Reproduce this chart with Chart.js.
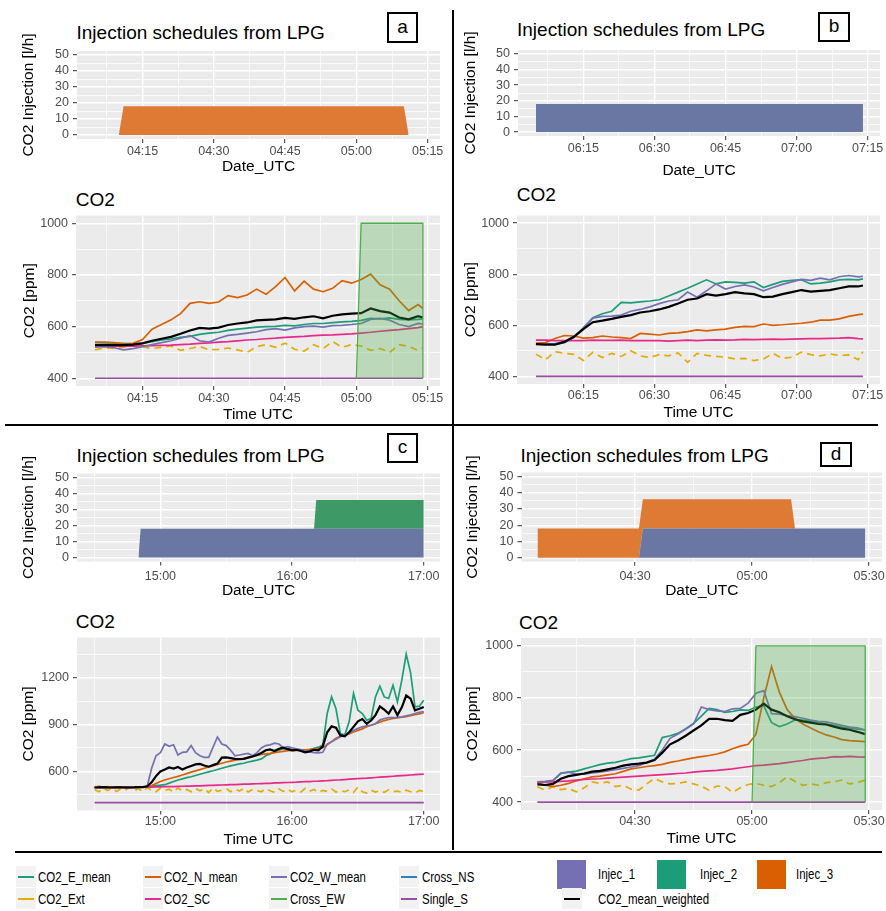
<!DOCTYPE html>
<html>
<head>
<meta charset="utf-8">
<title>Injection schedules and CO2</title>
<script src="https://cdn.jsdelivr.net/npm/chart.js@4.4.1/dist/chart.umd.min.js"></script>
<style>
  html, body { margin: 0; padding: 0; }
  body { position: relative; width: 886px; height: 911px; overflow: hidden; background: #fff;
         font-family: 'Liberation Sans', Arial, sans-serif; color: #000; }
  canvas { position: absolute; }
  .title { position: absolute; font-size: 19px; line-height: 19px; white-space: nowrap; }
  .tag { position: absolute; border: 2px solid #000; box-sizing: border-box; font-size: 19px; text-align: center; }
  .rule { position: absolute; background: #000; }
  .lg { position: absolute; font-size: 14px; line-height: 14px; white-space: nowrap;
        transform: scaleX(0.82); transform-origin: 0 50%; }
  .key { position: absolute; width: 20px; height: 21px; background: #f2f2f2; }
  .key i { position: absolute; left: 2px; right: 2px; top: 10px; height: 2px; }
  .box { position: absolute; width: 29px; height: 29px; }
</style>
</head>
<body>

<div class="rule" style="left:452px;top:10px;width:2px;height:840px"></div>
<div class="rule" style="left:5px;top:424px;width:873px;height:2px"></div>
<div class="rule" style="left:15px;top:851px;width:867px;height:2px"></div>

<div class="title" style="left:76.5px;top:23.4px">Injection schedules from LPG</div>
<div class="title" style="left:517px;top:20px">Injection schedules from LPG</div>
<div class="title" style="left:76.5px;top:446.2px">Injection schedules from LPG</div>
<div class="title" style="left:520.5px;top:446.2px">Injection schedules from LPG</div>
<div class="title" style="left:75.7px;top:189.9px">CO2</div>
<div class="title" style="left:516.7px;top:185.2px">CO2</div>
<div class="title" style="left:75.7px;top:612.4px">CO2</div>
<div class="title" style="left:519px;top:612.7px">CO2</div>

<div class="tag" style="left:387px;top:12px;width:31px;height:31px;line-height:25px">a</div>
<div class="tag" style="left:818px;top:12px;width:32px;height:30px;line-height:24px">b</div>
<div class="tag" style="left:387px;top:433px;width:31px;height:30px;line-height:24px">c</div>
<div class="tag" style="left:820px;top:442px;width:32px;height:25px;line-height:19px">d</div>

<canvas id="injA"></canvas>
<canvas id="co2A"></canvas>
<canvas id="injB"></canvas>
<canvas id="co2B"></canvas>
<canvas id="injC"></canvas>
<canvas id="co2C"></canvas>
<canvas id="injD"></canvas>
<canvas id="co2D"></canvas>

<!-- legend -->
<div class="key" style="left:16px;top:866px"><i style="background:#1b9e77"></i></div>
<div class="lg" style="left:38px;top:870px">CO2_E_mean</div>
<div class="key" style="left:143px;top:866px"><i style="background:#d95f02"></i></div>
<div class="lg" style="left:164px;top:870px">CO2_N_mean</div>
<div class="key" style="left:269px;top:866px"><i style="background:#7570b3"></i></div>
<div class="lg" style="left:290px;top:870px">CO2_W_mean</div>
<div class="key" style="left:399px;top:866px"><i style="background:#377eb8"></i></div>
<div class="lg" style="left:422px;top:870px">Cross_NS</div>
<div class="key" style="left:16px;top:888px"><i style="background:#e6ab02"></i></div>
<div class="lg" style="left:38px;top:892px">CO2_Ext</div>
<div class="key" style="left:143px;top:888px"><i style="background:#e7298a"></i></div>
<div class="lg" style="left:164px;top:892px">CO2_SC</div>
<div class="key" style="left:269px;top:888px"><i style="background:#4daf4a"></i></div>
<div class="lg" style="left:290px;top:892px">Cross_EW</div>
<div class="key" style="left:399px;top:888px"><i style="background:#984ea3"></i></div>
<div class="lg" style="left:422px;top:892px">Single_S</div>

<div class="box" style="left:557px;top:860px;background:#7570b3"></div>
<div class="lg" style="left:598px;top:867px">Injec_1</div>
<div class="box" style="left:657px;top:860px;background:#1b9e77"></div>
<div class="lg" style="left:700px;top:867px">Injec_2</div>
<div class="box" style="left:757px;top:860px;background:#d95f02"></div>
<div class="lg" style="left:796px;top:867px">Injec_3</div>
<div class="key" style="left:562px;top:888px"><i style="background:#000"></i></div>
<div class="lg" style="left:598px;top:892px">CO2_mean_weighted</div>

<script>
// ---------- injection schedules (l/h) ----------
const aInjTime = ['04:10', '04:11', '05:10', '05:11'];
const aInj3 = [0, 18, 18, 0];

const bInjTime = ['06:05', '07:14'];
const bInj1 = [18, 18];

const cInjTime = ['14:50', '14:51', '16:10', '16:11', '17:00'];
const cInj1 = [0, 18, 18, 18, 18];
const cInj2 = [0, 0, 0, 18, 18];

const dInjTime = ['04:05', '04:31', '04:32', '05:10', '05:11', '05:29'];
const dInj1 = [0, 0, 18, 18, 18, 18];
const dInj3 = [18, 18, 18, 18, 0, 0];

// ---------- CO2 (ppm), panel a ----------
const aTime = ['04:05','04:07','04:09','04:11','04:13','04:15','04:17','04:19','04:21','04:23','04:25','04:27',
  '04:29','04:31','04:33','04:35','04:37','04:39','04:41','04:43','04:45','04:47','04:49','04:51',
  '04:53','04:55','04:57','04:59','05:01','05:03','05:05','05:07','05:09','05:11','05:13','05:14'];
const aE = [538,537,536,535,533,536,542,548,552,558,562,570,575,578,585,590,594,598,600,601,605,603,608,612,
  612,615,618,620,624,632,630,634,628,626,628,630];
const aN = [540,540,538,532,535,550,590,608,626,650,690,696,690,695,720,712,722,745,725,755,790,738,776,745,
  735,748,778,768,782,803,762,745,700,662,685,670];
const aW = [520,522,518,510,515,522,530,538,545,555,565,545,540,555,566,570,575,580,588,592,586,595,600,602,
  598,604,605,608,612,628,632,625,608,600,612,610];
const aSC = [525,525,524,524,524,525,526,527,528,530,532,535,537,540,542,545,548,550,553,555,558,560,562,565,
  567,568,570,572,575,578,582,585,588,592,596,600];
const aExt = [510,518,515,520,525,522,515,520,525,508,515,523,510,512,517,510,500,522,530,520,536,512,505,530,
  515,542,520,530,525,508,515,500,530,523,508,517];
const aMean = [528,528,528,528,530,535,545,553,560,572,585,595,592,596,606,612,616,624,626,628,634,630,636,640,
  632,642,647,650,652,670,660,654,635,628,640,635];
const aSingleTime = ['04:05', '05:14'];
const aSingle = [400, 400];
const aCrossTime = ['05:00', '05:01', '05:14', '05:14'];
const aCross = [400, 1000, 1000, 400];

// ---------- CO2 (ppm), panel b ----------
const bTime = ['06:05','06:07','06:09','06:11','06:13','06:15','06:17','06:19','06:21','06:23','06:25','06:27',
  '06:29','06:31','06:33','06:35','06:37','06:39','06:41','06:43','06:45','06:47','06:49','06:51',
  '06:53','06:55','06:57','06:59','07:01','07:03','07:05','07:07','07:09','07:11','07:13','07:14'];
const bE = [526,526,528,535,555,590,630,645,655,690,688,692,695,700,715,730,745,762,778,762,770,768,765,770,
  748,760,772,776,778,762,765,770,778,780,778,782];
const bN = [530,532,548,560,558,550,552,558,554,552,548,568,565,562,568,570,575,582,578,582,585,592,596,595,
  605,600,602,605,608,612,620,620,625,635,642,644];
const bW = [526,526,526,532,552,588,628,635,636,640,655,662,672,685,695,700,730,710,735,762,742,752,758,750,
  735,748,760,770,780,776,785,778,790,795,790,792];
const bSC = [542,542,540,540,540,540,542,541,541,542,540,540,540,540,538,540,542,540,542,543,542,543,545,544,
  545,546,545,546,547,548,548,549,550,552,548,547];
const bExt = [487,465,497,490,486,462,494,474,490,478,500,480,474,485,480,492,455,490,482,478,475,468,470,462,
  468,490,470,475,495,485,480,488,482,484,465,497];
const bMean = [526,524,524,535,555,585,612,618,625,633,640,650,655,662,672,685,700,705,722,716,722,730,725,722,
  710,712,722,730,738,732,735,738,745,752,752,756];
const bSingleTime = ['06:05', '07:14'];
const bSingle = [400, 400];

// ---------- CO2 (ppm), panel c ----------
const cTime = ['14:30','14:32','14:34','14:36','14:38','14:40','14:42','14:44','14:46','14:48','14:50','14:52','14:54',
  '14:56','14:58','15:00','15:02','15:04','15:06','15:08','15:10','15:12','15:14','15:16','15:18',
  '15:20','15:22','15:24','15:26','15:28','15:30','15:32','15:34','15:36','15:38',
  '15:40','15:42','15:44','15:46','15:48','15:50','15:52','15:54','15:56','15:58',
  '16:00','16:02','16:04','16:06','16:08','16:10','16:12','16:14','16:16','16:18',
  '16:20','16:22','16:24','16:26','16:28','16:30','16:32','16:34','16:36','16:38',
  '16:40','16:42','16:44','16:46','16:48','16:50','16:52','16:54','16:56','16:58','17:00'];
const cE = [500,502,498,500,500,498,500,500,498,500,500,500,500,
  505,510,512,515,525,535,545,552,560,566,574,582,590,597,604,612,620,628,635,642,648,652,660,666,672,680,
  700,712,725,735,745,744,738,736,738,737,740,748,755,768,970,1076,1000,842,832,917,1098,991,970,927,938,
  1076,1145,1076,1066,1151,1044,1183,1350,1230,1013,1017,1055];
const cN = [500,505,500,502,498,500,500,498,500,500,500,500,505,
  510,522,535,545,553,561,568,577,586,595,603,611,620,628,636,644,652,660,666,672,678,684,690,696,702,708,
  712,715,720,724,728,732,734,735,736,737,740,742,745,752,770,790,812,825,832,840,852,862,872,885,895,
  905,915,925,932,938,942,946,950,956,962,968,975];
const cW = [497,497,500,498,497,497,497,496,497,497,498,500,505,
  620,700,720,775,760,770,705,722,725,765,720,700,690,690,755,820,775,765,735,700,705,710,715,700,720,750,
  765,770,780,775,750,758,750,745,740,730,725,720,719,722,775,790,805,822,835,845,862,875,885,892,895,
  905,928,938,944,944,946,949,955,962,970,978,982];
const cSC = [497,497,498,497,498,498,497,498,499,498,499,500,500,
  500,501,501,502,503,503,504,505,506,506,507,508,
  509,510,511,512,513,514,515,516,517,518,
  519,520,521,522,523,524,526,527,528,529,
  530,531,533,534,535,537,538,540,541,543,
  545,546,548,550,552,554,556,557,559,561,
  563,565,567,569,571,573,575,577,579,581,583];
const cExt = [485,470,492,478,495,472,488,480,498,476,490,470,496,
  480,470,492,478,486,468,495,474,484,470,490,476,
  488,465,494,472,480,490,470,486,475,492,
  468,484,478,470,490,476,466,488,472,485,
  470,480,468,492,474,484,466,478,472,488,
  468,476,470,482,466,500,470,462,480,468,
  476,466,482,470,474,466,480,470,462,478,470];
const cMean = [497,498,500,498,497,498,498,497,497,498,500,500,505,
  530,570,600,612,625,618,628,612,625,635,645,648,638,630,640,650,688,690,685,680,678,680,688,695,705,718,
  735,740,730,745,752,742,735,738,730,722,728,738,735,760,850,888,880,830,825,850,885,920,935,905,925,
  960,1015,995,970,1015,960,1010,1085,1065,990,1000,1012];
const cSingleTime = ['14:30', '17:00'];
const cSingle = [400, 400];

// ---------- CO2 (ppm), panel d ----------
const dTime = ['04:05','04:07','04:09','04:11','04:13','04:15','04:17','04:19','04:21','04:23','04:25','04:27',
  '04:29','04:31','04:33','04:35','04:37','04:39','04:41','04:43','04:45','04:47','04:49','04:51',
  '04:53','04:55','04:57','04:59','05:01','05:03','05:05','05:07','05:09','05:11','05:13','05:15',
  '05:17','05:19','05:21','05:23','05:25','05:27','05:29'];
const dE = [478,478,482,510,515,519,528,536,544,550,553,560,567,570,575,580,648,655,664,682,702,730,760,755,
  745,748,754,752,765,770,705,690,700,715,715,710,706,700,695,688,685,680,677];
const dN = [474,465,460,465,472,482,490,497,500,505,509,518,528,532,537,540,545,553,558,564,570,575,579,585,
  593,605,615,622,660,800,920,822,755,722,700,685,670,658,650,640,636,634,632];
const dW = [478,480,484,512,515,508,508,512,515,520,525,530,535,540,552,565,600,645,662,680,700,765,755,750,
  748,758,760,780,818,828,740,738,732,728,722,715,710,708,702,695,688,685,677];
const dSC = [477,478,478,480,482,485,487,489,490,492,494,496,498,500,502,504,506,508,510,512,515,518,520,522,
  525,528,532,536,540,542,545,548,552,556,560,565,568,570,575,574,576,574,573];
const dExt = [459,446,460,448,452,440,455,478,472,478,460,465,450,446,470,491,478,470,472,478,470,462,446,462,
  460,438,455,468,472,465,460,475,497,480,465,470,465,475,478,485,470,475,485];
const dMean = [468,466,470,490,500,505,510,517,520,526,532,540,545,548,552,562,590,622,637,655,675,695,720,720,
  715,712,735,742,755,778,755,745,730,718,710,705,700,698,690,682,678,670,661];
const dSingleTime = ['04:05', '05:29'];
const dSingle = [400, 400];
const dCrossTime = ['05:00', '05:01', '05:29', '05:29'];
const dCross = [400, 1000, 1000, 400];

// ---------- tick labels ----------
const aMajor = ['04:15', '04:30', '04:45', '05:00', '05:15'];
const bMajor = ['06:15', '06:30', '06:45', '07:00', '07:15'];
const cMajor = ['15:00', '16:00', '17:00'];
const dMajor = ['04:30', '05:00', '05:30'];
const injTicks = [0, 10, 20, 30, 40, 50];
const co2Ticks = [400, 600, 800, 1000];
const co2TicksC = [600, 900, 1200];

// ---------- helpers ----------
Chart.defaults.font.family = "'Liberation Sans', Arial, sans-serif";

const toMin = s => { const p = s.split(':'); return +p[0] * 60 + +p[1]; };
const pad2 = n => String(n).padStart(2, '0');
const hhmm = v => pad2(Math.floor(v / 60)) + ':' + pad2(v % 60);
const pts = (times, vals) => times.map((t, i) => ({ x: toMin(t), y: vals[i] }));

// grey ggplot panel
const panelBg = {
  id: 'panelBg',
  beforeDraw(chart) {
    const a = chart.chartArea, ctx = chart.ctx;
    ctx.save();
    ctx.fillStyle = '#ebebeb';
    ctx.fillRect(a.left, a.top, a.right - a.left, a.bottom - a.top);
    ctx.restore();
  }
};

// majors plus the minor lines half way between them
function withMinors(majors, lo, hi) {
  const step = majors[1] - majors[0];
  const out = [majors[0] - step / 2];
  majors.forEach(m => out.push(m, m + step / 2));
  return out.filter(v => v >= lo && v <= hi);
}

function axis(o) {
  const major = o.major;
  const ticks = withMinors(major, o.min, o.max);
  const isMajor = c => !!c.tick && major.indexOf(c.tick.value) >= 0;
  return {
    type: 'linear', min: o.min, max: o.max, stacked: !!o.stacked,
    border: { display: false },
    afterBuildTicks: s => { s.ticks = ticks.map(v => ({ value: v })); },
    grid: {
      color: '#ffffff',
      lineWidth: c => isMajor(c) ? 1.4 : 0.7,
      tickLength: 4,
      tickWidth: 1,
      tickColor: c => isMajor(c) ? '#333333' : 'rgba(0,0,0,0)'
    },
    ticks: {
      autoSkip: false, maxRotation: 0, padding: o.pad, color: '#4d4d4d', font: { size: 12.5 },
      callback: v => major.indexOf(v) >= 0 ? (o.fmt ? o.fmt(v) : String(v)) : ''
    },
    title: { display: true, text: o.title, color: '#000', font: { size: 15.5 } }
  };
}

function build(id, rect, plot, xo, yo, datasets) {
  const cv = document.getElementById(id);
  cv.width = rect.r - rect.l;
  cv.height = rect.b - rect.t;
  cv.style.left = rect.l + 'px';
  cv.style.top = rect.t + 'px';
  const x = axis(xo), y = axis(yo);
  x.afterFit = s => { s.height = rect.b - plot.b; };
  y.afterFit = s => { s.width = plot.l - rect.l; };
  x.title.padding = { top: 0, bottom: xo.tpad };
  y.title.padding = { top: yo.tpad, bottom: 0 };
  return new Chart(cv, {
    type: 'line',
    data: { datasets: datasets },
    options: {
      responsive: false, animation: false, devicePixelRatio: 1,
      layout: { autoPadding: false, padding: { left: 0, top: plot.t - rect.t, right: rect.r - plot.r, bottom: 0 } },
      plugins: { legend: { display: false }, tooltip: { enabled: false } },
      elements: { point: { radius: 0 }, line: { tension: 0 } },
      scales: { x: x, y: y }
    },
    plugins: [panelBg]
  });
}

function injSet(t, v, color, fill) {
  return { data: pts(t, v), borderColor: 'rgba(0,0,0,0)', borderWidth: 0, backgroundColor: color, fill: fill };
}

function lineSet(t, v, color, width, order, dash) {
  return { data: pts(t, v), borderColor: color, borderWidth: width, borderDash: dash || [], fill: false, order: order };
}

function crossSet(t, v) {
  return { data: pts(t, v), borderColor: '#4daf4a', borderWidth: 1.3, backgroundColor: 'rgba(77,175,74,0.3)',
           fill: { value: 400 }, order: 0 };
}

function co2Sets(t, e, ext, n, sc, w, singleT, single, mean) {
  return [
    lineSet(t, e, '#1b9e77', 1.7, 7),
    lineSet(t, ext, '#e6ab02', 1.7, 6, [7, 5]),
    lineSet(t, n, '#d95f02', 1.7, 5),
    lineSet(t, sc, '#e7298a', 1.7, 4),
    lineSet(t, w, '#7570b3', 1.7, 3),
    lineSet(singleT, single, '#984ea3', 1.7, 2),
    lineSet(t, mean, '#000000', 2.2, 1)
  ];
}

const INJ_BLUE = '#6a77a3', INJ_GREEN = '#3d9966', INJ_ORANGE = '#df7a35';

// ---------- panel a ----------
build('injA', { l: 0, t: 22, r: 447, b: 182 }, { l: 77, t: 51, r: 440, b: 139 },
  { min: 241.2, max: 317.6, major: aMajor.map(toMin), fmt: hhmm, pad: 1.1, title: 'Date_UTC', tpad: 5.5 },
  { min: -2.5, max: 52.5, major: injTicks, pad: 4, title: 'CO2 Injection [l/h]', tpad: 19.45, stacked: true },
  [injSet(aInjTime, aInj3, INJ_ORANGE, 'origin')]);

build('co2A', { l: 0, t: 204, r: 447, b: 428 }, { l: 76, t: 215, r: 440, b: 386 },
  { min: 241.0, max: 317.6, major: aMajor.map(toMin), fmt: hhmm, pad: 1.1, title: 'Time UTC', tpad: 4.0 },
  { min: 370, max: 1030, major: co2Ticks, pad: 4, title: 'CO2 [ppm]', tpad: 19.95 },
  co2Sets(aTime, aE, aExt, aN, aSC, aW, aSingleTime, aSingle, aMean).concat([crossSet(aCrossTime, aCross)]));

// ---------- panel b ----------
build('injB', { l: 455, t: 20, r: 888, b: 185 }, { l: 518, t: 50, r: 880, b: 136 },
  { min: 361.2, max: 437.6, major: bMajor.map(toMin), fmt: hhmm, pad: 1.4, title: 'Date_UTC', tpad: 5.0 },
  { min: -2.5, max: 52.5, major: injTicks, pad: 4, title: 'CO2 Injection [l/h]', tpad: 6.45, stacked: true },
  [injSet(bInjTime, bInj1, INJ_BLUE, 'origin')]);

build('co2B', { l: 455, t: 204, r: 888, b: 428 }, { l: 517, t: 212, r: 880, b: 384 },
  { min: 361.0, max: 437.6, major: bMajor.map(toMin), fmt: hhmm, pad: 0.1, title: 'Time UTC', tpad: 6.0 },
  { min: 370, max: 1030, major: co2Ticks, pad: 4, title: 'CO2 [ppm]', tpad: 6.45 },
  co2Sets(bTime, bE, bExt, bN, bSC, bW, bSingleTime, bSingle, bMean));

// ---------- panel c ----------
build('injC', { l: 0, t: 440, r: 447, b: 605 }, { l: 77, t: 473.5, r: 440, b: 561.5 },
  { min: 862, max: 1027.4, major: cMajor.map(toMin), fmt: hhmm, pad: 3.6, title: 'Date_UTC', tpad: 4.5 },
  { min: -2.5, max: 52.5, major: injTicks, pad: 4, title: 'CO2 Injection [l/h]', tpad: 19.45, stacked: true },
  [injSet(cInjTime, cInj1, INJ_BLUE, 'origin'), injSet(cInjTime, cInj2, INJ_GREEN, '-1')]);

build('co2C', { l: 0, t: 626, r: 447, b: 852 }, { l: 77, t: 637.5, r: 440, b: 810.5 },
  { min: 862, max: 1027.4, major: cMajor.map(toMin), fmt: hhmm, pad: 0, title: 'Time UTC', tpad: 3.0 },
  { min: 350, max: 1456, major: co2TicksC, pad: 4, title: 'CO2 [ppm]', tpad: 19.45 },
  co2Sets(cTime, cE, cExt, cN, cSC, cW, cSingleTime, cSingle, cMean));

// ---------- panel d ----------
build('injD', { l: 455, t: 440, r: 890, b: 605 }, { l: 521.5, t: 472.5, r: 882, b: 561.7 },
  { min: 240.9, max: 333.3, major: dMajor.map(toMin), fmt: hhmm, pad: 3.4, title: 'Date_UTC', tpad: 4.7 },
  { min: -2.5, max: 52.5, major: injTicks, pad: 4, title: 'CO2 Injection [l/h]', tpad: 7.95, stacked: true },
  [injSet(dInjTime, dInj1, INJ_BLUE, 'origin'), injSet(dInjTime, dInj3, INJ_ORANGE, '-1')]);

build('co2D', { l: 455, t: 626, r: 890, b: 852 }, { l: 521, t: 638, r: 882, b: 810 },
  { min: 240.8, max: 333.3, major: dMajor.map(toMin), fmt: hhmm, pad: 0, title: 'Time UTC', tpad: 4.0 },
  { min: 370, max: 1030, major: co2Ticks, pad: 4, title: 'CO2 [ppm]', tpad: 7.95 },
  co2Sets(dTime, dE, dExt, dN, dSC, dW, dSingleTime, dSingle, dMean).concat([crossSet(dCrossTime, dCross)]));
</script>
</body>
</html>
